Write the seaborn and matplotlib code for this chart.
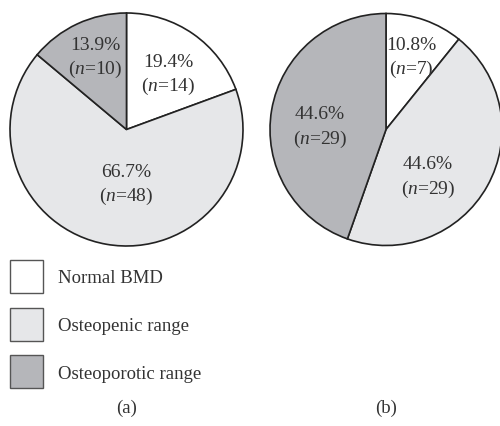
import matplotlib
matplotlib.use("Agg")
import matplotlib.pyplot as plt
import seaborn as sns
import numpy as np
from matplotlib.patches import Patch

sns.set_theme(style="white")
plt.rcParams["font.family"] = ["Liberation Serif", "DejaVu Serif"]
plt.rcParams["mathtext.fontset"] = "custom"
plt.rcParams["mathtext.rm"] = "Liberation Serif"
plt.rcParams["mathtext.it"] = "Liberation Serif:italic"

categories = ["Normal BMD", "Osteopenic range", "Osteoporotic range"]
pct_a = [19.4, 66.7, 13.9]
n_a = [14, 48, 10]
pct_b = [10.8, 44.6, 44.6]
n_b = [7, 29, 29]
panel_labels = ["(a)", "(b)"]

colors = ["#ffffff", "#e6e7e9", "#b5b6ba"]
text_color = "#333333"
edge_color = "#222222"

W, H = 500, 427
fig = plt.figure(figsize=(W / 100, H / 100), dpi=100)

# label offsets per slice, in units of the pie radius
offsets_a = [(0.36, 0.47), (0.0, -0.47), (-0.27, 0.62)]
offsets_b = [(0.22, 0.62), (0.36, -0.41), (-0.57, 0.02)]


def add_pie(cx, cy, r, pct, counts, offsets, label):
    pad = 1.05
    w = 2 * r * pad
    ax = fig.add_axes([(cx - r * pad) / W, 1 - (cy + r * pad) / H, w / W, w / H])
    ax.pie(pct, colors=colors, startangle=90, counterclock=False,
           wedgeprops=dict(edgecolor=edge_color, linewidth=1.2))
    ax.set_xlim(-pad, pad)
    ax.set_ylim(-pad, pad)
    ax.set_aspect("equal")
    ax.axis("off")
    for p, n, (dx, dy) in zip(pct, counts, offsets):
        ax.text(dx, dy, f"{p:.1f}%\n($\\mathit{{n}}$={n})", ha="center", va="center",
                fontsize=14, color=text_color, linespacing=1.35)
    fig.text(cx / W, 1 - 408 / H, label, ha="center", va="center",
             fontsize=13.5, color=text_color)


add_pie(126.5, 130.5, 116.5, pct_a, n_a, offsets_a, panel_labels[0])
add_pie(386, 130.5, 116, pct_b, n_b, offsets_b, panel_labels[1])

handles = [Patch(facecolor=c, edgecolor="#555555", linewidth=1.0) for c in colors]
fs = 13.5
fig.legend(handles, categories, loc="upper left",
           bbox_to_anchor=(10 / W, 1 - 261 / H), frameon=False, borderpad=0,
           borderaxespad=0, fontsize=fs, handlelength=1.76, handleheight=2.33,
           handletextpad=0.8, labelspacing=0.78, labelcolor=text_color)

fig.savefig("out.png", dpi=100)
